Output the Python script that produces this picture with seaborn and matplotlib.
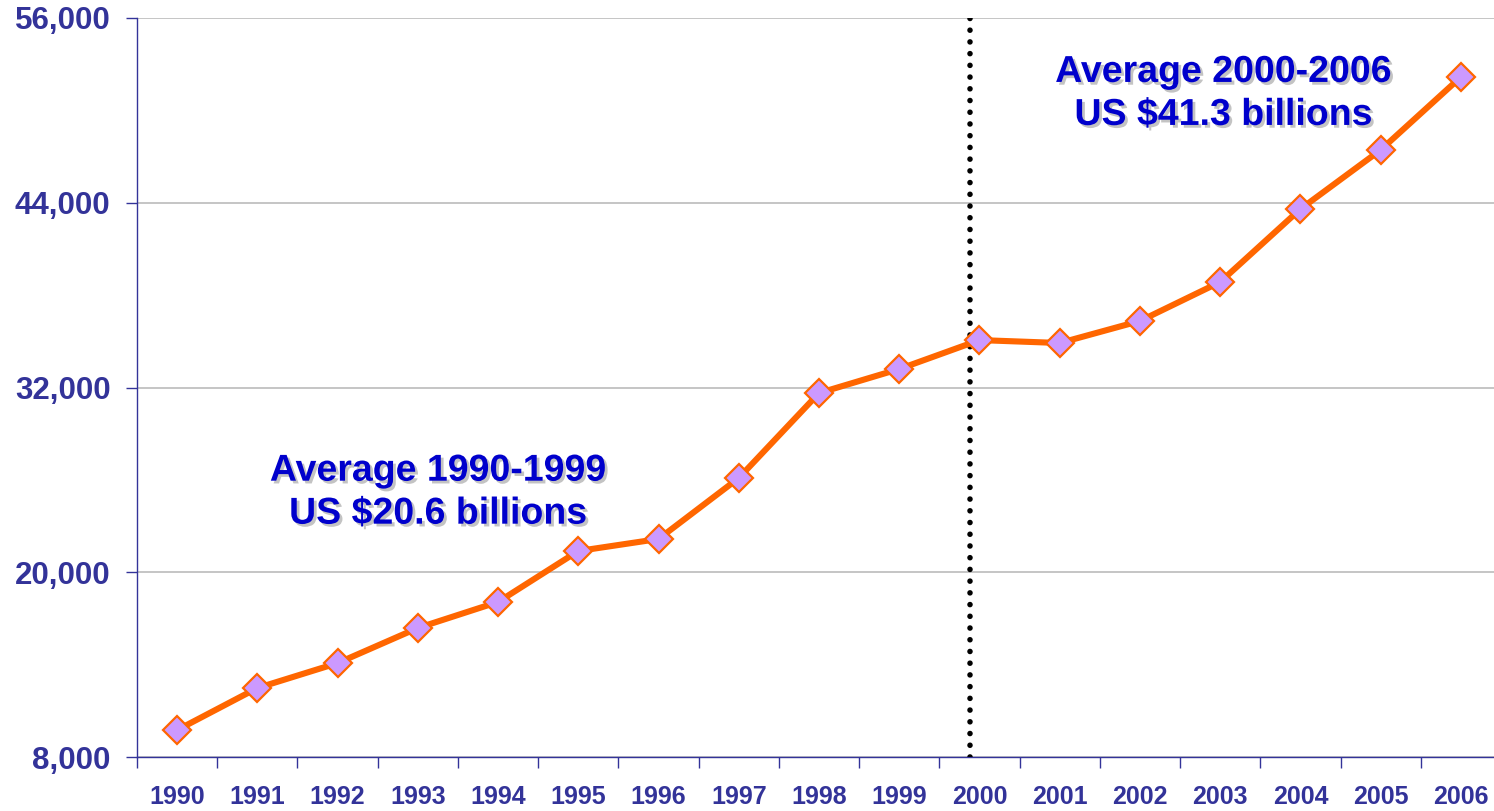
import numpy as np
import matplotlib
matplotlib.use("Agg")
import matplotlib.pyplot as plt
import matplotlib.patheffects as pe
from matplotlib.ticker import FixedLocator
import seaborn as sns

years = ["1990", "1991", "1992", "1993", "1994", "1995", "1996", "1997", "1998",
         "1999", "2000", "2001", "2002", "2003", "2004", "2005", "2006"]
values = [9750, 12480, 14100, 16380, 18070, 21380, 22160, 26120, 31640,
          33200, 35080, 34890, 36320, 38850, 43590, 47430, 52170]
yticks = [8000, 20000, 32000, 44000, 56000]
ann1 = "Average 1990-1999\nUS $20.6 billions"
ann2 = "Average 2000-2006\nUS $41.3 billions"

sns.set_theme(style="white")
plt.rcParams['font.family'] = ['Liberation Sans', 'DejaVu Sans']

axis_col = "#333399"
fig = plt.figure(figsize=(14.94, 8.11), dpi=100)
ax = fig.add_axes([137/1494, 54/811, (1501-137)/1494, 739/811])

x = np.arange(len(years))
sns.lineplot(x=x, y=values, ax=ax, color="#FF6600", linewidth=4.4,
             marker="D", markersize=14, markerfacecolor="#CC99FF",
             markeredgecolor="#FF6600", markeredgewidth=1.6, zorder=5)

ax.set_xlim(-0.5, len(years) - 0.5)
ax.set_ylim(yticks[0], yticks[-1])
ax.set_yticks(yticks)
ax.set_yticklabels([f"{v:,}" for v in yticks])
ax.set_xticks(x)
ax.set_xticklabels(years)
ax.xaxis.set_minor_locator(FixedLocator(np.arange(-0.5, len(years), 1.0)))

ax.grid(axis="y", color="#BBBBBB", linewidth=1.2, zorder=0)
ax.grid(axis="x", visible=False)
for s in ["top", "right"]:
    ax.spines[s].set_visible(False)
for s in ["left", "bottom"]:
    ax.spines[s].set_color(axis_col)
    ax.spines[s].set_linewidth(1.0)

ax.tick_params(axis="x", which="major", length=0, pad=20, labelsize=18,
               labelcolor=axis_col)
ax.tick_params(axis="x", which="minor", length=8, width=1, color=axis_col,
               direction="out", bottom=True)
ax.tick_params(axis="y", which="major", length=8, width=1, color=axis_col,
               direction="out", left=True, labelsize=22.5, labelcolor=axis_col, pad=11)
for lab in ax.get_xticklabels() + ax.get_yticklabels():
    lab.set_fontweight("bold")

ax.axvline(9.88, color="black", linewidth=4.0, linestyle=(0, (0.01, 2.1)),
           dash_capstyle="round", zorder=3)

shadow = [pe.SimplePatchShadow(offset=(2, -2), shadow_rgbFace="#888888", alpha=0.5),
          pe.Normal()]
ax.text(3.25, 25200, ann1, ha="center", va="center", fontsize=27,
        fontweight="bold", color="#0000CC", linespacing=1.25,
        path_effects=shadow, zorder=6)
ax.text(13.04, 51100, ann2, ha="center", va="center", fontsize=27,
        fontweight="bold", color="#0000CC", linespacing=1.25,
        path_effects=shadow, zorder=6)

fig.savefig("out.png", dpi=100)
